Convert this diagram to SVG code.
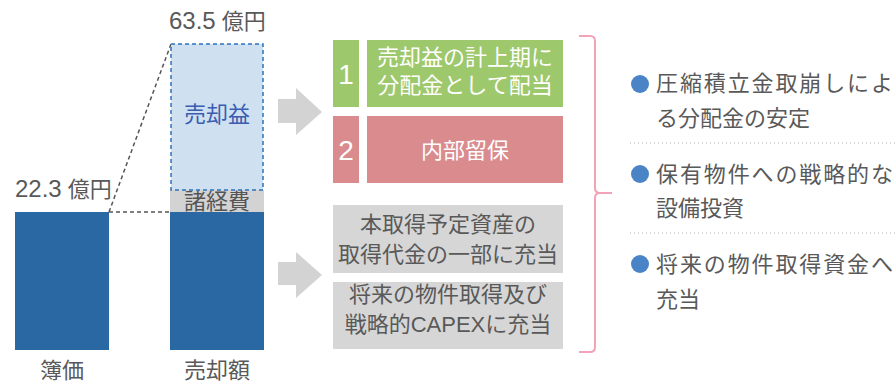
<svg xmlns="http://www.w3.org/2000/svg" width="895" height="382" viewBox="0 0 895 382">
<style>
text{font-family:"Liberation Sans","Noto Sans CJK JP",sans-serif;font-size:22px;}
.g{fill:#595959;}
.w{fill:#ffffff;}
.c{text-anchor:middle;}
.num{font-size:24px;}
.big{font-size:28px;}
.bar{fill:#2a68a4;}
.arr{fill:#d3d3d3;}
.dash{stroke:#555;stroke-width:1.5;stroke-dasharray:4 3;fill:none;}
.sep{stroke:#aaa;stroke-width:1;stroke-dasharray:1 3;fill:none;}
.dot{fill:#4a84c6;}
</style>
<g id="connectors">
<path class="dash" d="M109,212 L171,44 M109,212 L170,212"/>
<polygon class="arr" points="278,99 296,99 296,88 322,112 296,135 296,123 278,123"/>
<polygon class="arr" points="278,262 296,262 296,252 322,275 296,298 296,285 278,285"/>
<path d="M579,36 L590,36 Q595,36 595,41 L595,188 Q595,193 600,193 L612,193 M600,193 Q595,193 595,198 L595,347 Q595,352 590,352 L579,352" stroke="#f2a3b7" stroke-width="2" fill="none"/>
</g>
<g id="bookvalue">
<rect class="bar" x="15" y="212" width="94" height="138"/>
<text class="g" x="15" y="197"><tspan class="num">22.3</tspan> 億円</text>
<text class="g c" x="62" y="378">簿価</text>
</g>
<g id="saleprice">
<rect class="bar" x="170" y="212" width="94" height="138"/>
<rect x="170" y="190" width="94" height="22" fill="#d3d3d3"/>
<text class="c" x="217" y="209" fill="#555" font-size="21">諸経費</text>
<rect x="171" y="44" width="92" height="146" fill="#cfe0f1" stroke="#2e72b8" stroke-width="1.5" stroke-dasharray="4 3"/>
<text class="c" x="217" y="122" fill="#3a5db0">売却益</text>
<text class="g" x="169" y="29"><tspan class="num">63.5</tspan> 億円</text>
<text class="g c" x="217" y="378">売却額</text>
</g>
<g id="box1">
<rect x="333" y="40" width="26" height="67" fill="#9dc86c"/>
<text class="w c big" x="346" y="84">1</text>
<rect x="367" y="40" width="196" height="67" fill="#9dc86c"/>
<text class="w c" x="465" y="65">売却益の計上期に</text>
<text class="w c" x="465" y="93">分配金として配当</text>
</g>
<g id="box2">
<rect x="333" y="116" width="26" height="67" fill="#d98b8e"/>
<text class="w c big" x="346" y="160">2</text>
<rect x="367" y="116" width="196" height="67" fill="#d98b8e"/>
<text class="w c" x="465" y="158">内部留保</text>
</g>
<g id="box3">
<rect x="333" y="205" width="230" height="68" fill="#d6d6d6"/>
<text class="g c" x="448" y="232">本取得予定資産の</text>
<text class="g c" x="448" y="262">取得代金の一部に充当</text>
</g>
<g id="box4">
<rect x="333" y="282" width="230" height="67" fill="#d6d6d6"/>
<text class="g c" x="448" y="302">将来の物件取得及び</text>
<text class="g c" x="448" y="332">戦略的CAPEXに充当</text>
</g>
<g id="item1">
<circle class="dot" cx="640" cy="84" r="9"/>
<text class="g" x="656" y="91" textLength="237" lengthAdjust="spacing">圧縮積立金取崩しによ</text>
<text class="g" x="656" y="126">る分配金の安定</text>
</g>
<path class="sep" d="M630,143 L895,143"/>
<g id="item2">
<circle class="dot" cx="640" cy="174" r="9"/>
<text class="g" x="656" y="182" textLength="237" lengthAdjust="spacing">保有物件への戦略的な</text>
<text class="g" x="656" y="216">設備投資</text>
</g>
<path class="sep" d="M630,233 L895,233"/>
<g id="item3">
<circle class="dot" cx="640" cy="264" r="9"/>
<text class="g" x="656" y="272" textLength="237" lengthAdjust="spacing">将来の物件取得資金へ</text>
<text class="g" x="656" y="307">充当</text>
</g>
</svg>
